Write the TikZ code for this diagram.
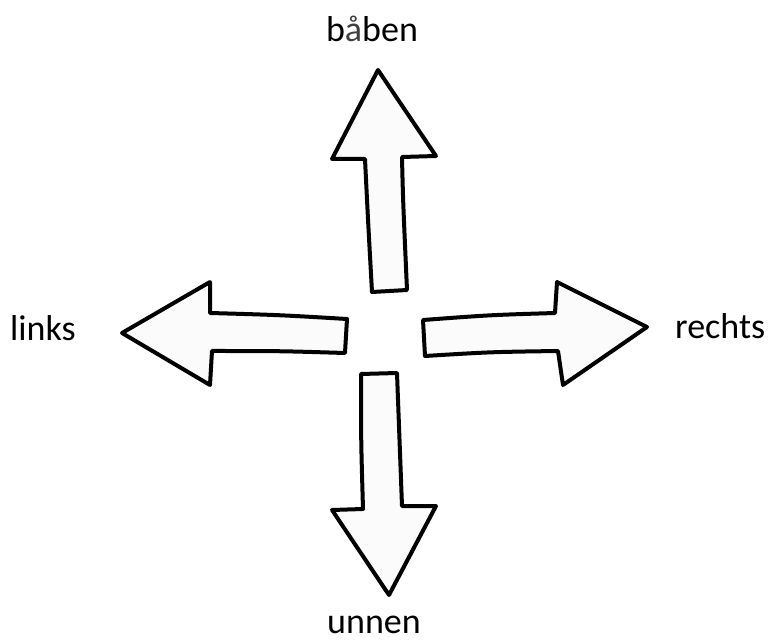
\documentclass[tikz,border=0pt]{standalone}
\usepackage{fontspec}
\setmainfont{Carlito}
\begin{document}
\begin{tikzpicture}[x=1pt,y=-1pt,
  arrowshape/.style={draw=black, line width=4pt, line join=round, line cap=round, fill=black!1.5},
  lbl/.style={inner sep=0pt, text depth=0pt, font=\fontsize{36}{40}\selectfont}]
\useasboundingbox (0,0) rectangle (769,644);
% up arrow
\draw[arrowshape] (378,70) -- (436,156) -- (402,157) .. controls (403,200) .. (407,290) -- (372,292) .. controls (368,220) .. (365,159) -- (332,159) -- cycle;
% left arrow
\draw[arrowshape] (122,333) -- (210,282) -- (210,313) .. controls (280,315) .. (347,319) -- (345,353) .. controls (280,351) .. (212,351) -- (210,385) -- cycle;
% right arrow
\draw[arrowshape] (647,327) -- (563,385) -- (558,351) .. controls (490,352) .. (425,356) -- (423,320) .. controls (490,315) .. (555,313) -- (557,282) -- cycle;
% down arrow
\draw[arrowshape] (389,595) -- (332,510) -- (363,509) .. controls (361,440) .. (361,374) -- (397,373) .. controls (400,440) .. (402,506) -- (436,506) -- cycle;
% labels
\node[lbl, anchor=base] (up) at (372,42) {b\textcolor{black!75}{å}ben};
\node[lbl, anchor=base west] (left) at (10,341) {links};
\node[lbl, anchor=base west] (right) at (675,339) {rechts};
\node[lbl, anchor=base] (down) at (374,633) {unnen};
\end{tikzpicture}
\end{document}
